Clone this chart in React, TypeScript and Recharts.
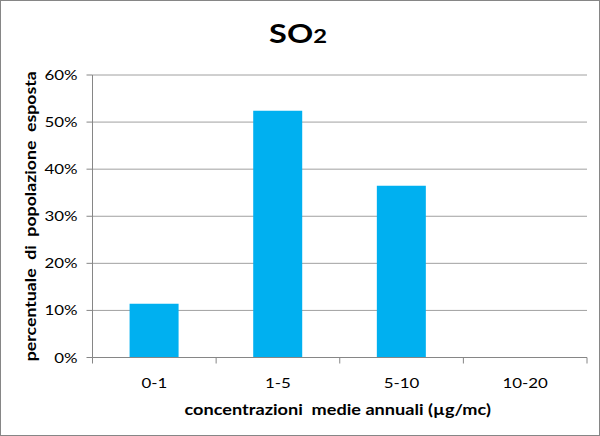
import React from "react";
import { Bar, BarChart, CartesianGrid, Label, XAxis, YAxis } from "recharts";

const categories = ["0-1", "1-5", "5-10", "10-20"];
const shares = [11.4, 52.4, 36.5, 0];
const yTicks = [0, 10, 20, 30, 40, 50, 60];

const data = categories.map((range, i) => ({ range, share: shares[i] }));

const FONT = "Lato, 'Open Sans', sans-serif";
const SX = 1.25;
const AXIS = "#868686";
const PLOT_W = 494.5;

type StretchProps = {
  x: number;
  y: number;
  sx?: number;
  rotate?: number;
  children: React.ReactNode;
  [key: string]: unknown;
};

function StretchText({ x, y, sx = SX, rotate, children, ...rest }: StretchProps) {
  const t = `translate(${x},${y}) scale(${sx},1)` + (rotate ? ` rotate(${rotate})` : "");
  return (
    <g transform={t}>
      <text x={0} y={0} fontFamily={FONT} fill="#000" style={{ whiteSpace: "pre" }} {...rest}>
        {children}
      </text>
    </g>
  );
}

function YTick(props: any) {
  const { x, y, payload } = props;
  return (
    <StretchText x={x} y={y + 5} textAnchor="end" fontSize={13.5}>
      {`${payload.value}%`}
    </StretchText>
  );
}

function XTick(props: any) {
  const { x, y, payload, index } = props;
  const band = PLOT_W / categories.length;
  const top = y - 8;
  return (
    <g>
      <line x1={x - band / 2} x2={x - band / 2} y1={top} y2={top + 6} stroke={AXIS} />
      {index === categories.length - 1 && (
        <line x1={x + band / 2} x2={x + band / 2} y1={top} y2={top + 6} stroke={AXIS} />
      )}
      <StretchText x={x} y={y + 22} textAnchor="middle" fontSize={13.5}>
        {payload.value}
      </StretchText>
    </g>
  );
}

export default function App() {
  return (
    <div style={{ position: "fixed", left: 0, top: 0, width: 600, height: 436, background: "#fff" }}>
      <BarChart
        width={600}
        height={436}
        data={data}
        margin={{ top: 75, right: 13, bottom: 48.5, left: 0 }}
        barCategoryGap="30%"
      >
        <CartesianGrid horizontal vertical={false} stroke="#a0a0a0" />
        <XAxis
          dataKey="range"
          height={30}
          axisLine={{ stroke: AXIS }}
          tickLine={false}
          tick={<XTick />}
          interval={0}
        >
          <Label
            content={(p: any) => (
              <StretchText
                x={p.viewBox.x + p.viewBox.width / 2 - 2}
                y={415}
                textAnchor="middle"
                fontSize={14.5}
                fontWeight="bold"
              >
                concentrazioni  medie annuali (µg/mc)
              </StretchText>
            )}
          />
        </XAxis>
        <YAxis
          width={92.5}
          domain={[0, 60]}
          ticks={yTicks}
          interval={0}
          tickSize={6}
          tickMargin={9}
          axisLine={{ stroke: AXIS }}
          tickLine={{ stroke: AXIS }}
          tick={<YTick />}
        >
          <Label
            content={(p: any) => (
              <StretchText
                x={36}
                y={p.viewBox.y + p.viewBox.height / 2}
                sx={1}
                rotate={-90}
                textAnchor="middle"
                fontSize={14.5}
                fontWeight="bold"
                textLength={290}
                lengthAdjust="spacingAndGlyphs"
              >
                percentuale  di  popolazione  esposta
              </StretchText>
            )}
          />
        </YAxis>
        <Bar dataKey="share" fill="#00b0f0" isAnimationActive={false} />
      </BarChart>
      <svg width={600} height={60} style={{ position: "absolute", left: 0, top: 0 }}>
        <StretchText x={298} y={43} textAnchor="middle" fontSize={26} fontWeight="bold">
          SO<tspan fontSize={19}>2</tspan>
        </StretchText>
      </svg>
      <div
        style={{
          position: "absolute",
          inset: 0,
          border: `1px solid ${AXIS}`,
          pointerEvents: "none",
        }}
      />
    </div>
  );
}
